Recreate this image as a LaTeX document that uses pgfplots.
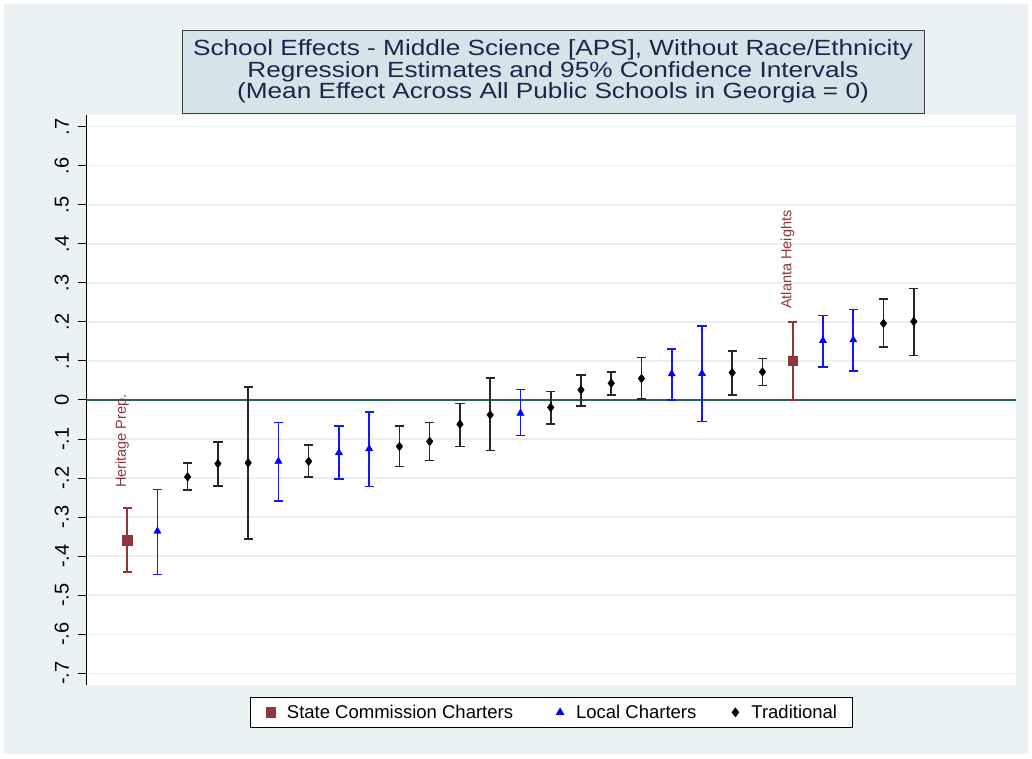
\documentclass[border=0pt]{standalone}
\usepackage{pgfplots}
\usepackage{pgfplotstable}
\pgfplotsset{compat=1.18}
\usepackage{fontspec}
\setmainfont{Liberation Sans}
\newfontfamily\titlefont[FakeStretch=1.19]{Liberation Sans}
\definecolor{bgc}{RGB}{234,242,243}
\definecolor{titlebg}{RGB}{214,227,233}
\definecolor{gridc}{RGB}{232,240,242}
\definecolor{zeroc}{RGB}{36,100,92}
\definecolor{sred}{RGB}{144,53,59}
\definecolor{lblue}{RGB}{20,20,255}
\definecolor{titlec}{RGB}{28,38,74}

\pgfplotstableread{
x y lo hi
1 -0.359 -0.441 -0.276
23 0.100 0.000 0.200
}\statedata

\pgfplotstableread{
x y lo hi
2 -0.336 -0.447 -0.229
6 -0.157 -0.258 -0.058
8 -0.135 -0.202 -0.067
9 -0.125 -0.222 -0.031
14 -0.034 -0.091 0.027
19 0.067 0.000 0.131
20 0.068 -0.055 0.189
24 0.152 0.085 0.216
25 0.154 0.075 0.232
}\localdata

\pgfplotstableread{
x y lo hi
3 -0.197 -0.231 -0.162
4 -0.163 -0.220 -0.108
5 -0.161 -0.356 0.034
7 -0.157 -0.197 -0.115
10 -0.119 -0.170 -0.066
11 -0.106 -0.155 -0.058
12 -0.062 -0.119 -0.009
13 -0.038 -0.129 0.056
15 -0.019 -0.062 0.022
16 0.026 -0.015 0.064
17 0.043 0.013 0.071
18 0.055 0.002 0.109
21 0.070 0.013 0.126
22 0.072 0.037 0.106
26 0.196 0.135 0.259
27 0.201 0.114 0.286
}\traddata

\begin{document}
\begin{tikzpicture}[x=1pt,y=1pt]
\fill[white] (0,0) rectangle (1032,758);
\fill[bgc] (4,4) rectangle (1028,754);
\fill[white] (86,73) rectangle (1016,643);
\begin{axis}[
  at={(86pt,73pt)}, anchor=south west,
  scale only axis, width=930pt, height=570pt,
  xmin=-0.36, xmax=30.38, ymin=-0.73, ymax=0.73,
  axis x line=none, axis y line*=left,
  axis line style={black, line width=1pt},
  ytick={-0.7,-0.6,-0.5,-0.4,-0.3,-0.2,-0.1,0,0.1,0.2,0.3,0.4,0.5,0.6,0.7},
  yticklabels={-.7,-.6,-.5,-.4,-.3,-.2,-.1,0,.1,.2,.3,.4,.5,.6,.7},
  tick align=outside, major tick length=8pt,
  ytick style={black, line width=1pt},
  yticklabel style={xshift=-9pt, rotate=90, anchor=south, inner sep=0pt, font=\fontsize{20}{22}\selectfont},
  ymajorgrids, grid style={gridc, line width=1.5pt},
  clip=false,
  legend columns=3,
  legend image code/.code={\path[draw=none,fill=none] (0pt,-1pt) rectangle (22pt,1pt); \draw[mark repeat=1,#1] plot coordinates {(8pt,0pt)};},
  legend style={at={(0.5,-0.0211)}, anchor=north, draw=black, line width=0.8pt, fill=white,
    font=\fontsize{18.5}{20}\selectfont, inner xsep=13pt, inner ysep=5.5pt,
    /tikz/column 2/.append style={column sep=37pt},
    /tikz/column 4/.append style={column sep=29pt}},
]
\addplot[zeroc, line width=1.6pt, forget plot] coordinates {(-0.36,0) (30.38,0)};

\addplot[only marks, mark=square*, mark size=4.7pt, color=sred,
  error bars/.cd, y dir=both, y explicit,
  error bar style={line width=2.2pt, color=sred},
  error mark options={rotate=90, mark size=4.6pt, line width=2pt, color=sred}]
  table[x=x, y=y, y error plus expr=\thisrow{hi}-\thisrow{y}, y error minus expr=\thisrow{y}-\thisrow{lo}] {\statedata};
\addlegendentry{State Commission Charters}

\addplot[only marks, mark=triangle*, mark size=4.2pt, color=blue,
  error bars/.cd, y dir=both, y explicit,
  error bar style={line width=1.8pt, color=lblue},
  error mark options={rotate=90, mark size=4.6pt, line width=1.6pt, color=lblue}]
  table[x=x, y=y, y error plus expr=\thisrow{hi}-\thisrow{y}, y error minus expr=\thisrow{y}-\thisrow{lo}] {\localdata};
\addlegendentry{Local Charters}

\addplot[only marks, mark=diamond*, mark size=4.4pt, color=black,
  error bars/.cd, y dir=both, y explicit,
  error bar style={line width=1.6pt, color=black!85},
  error mark options={rotate=90, mark size=4.6pt, line width=1.6pt, color=black!85}]
  table[x=x, y=y, y error plus expr=\thisrow{hi}-\thisrow{y}, y error minus expr=\thisrow{y}-\thisrow{lo}] {\traddata};
\addlegendentry{Traditional}

\node[rotate=90, anchor=west, inner sep=0pt, text=sred, font=\fontsize{14.5}{16}\selectfont]
  at ([xshift=-5pt,yshift=52pt]axis cs:1,-0.359) {Heritage Prep.};
\node[rotate=90, anchor=west, inner sep=0pt, text=sred, font=\fontsize{14.5}{16}\selectfont]
  at ([xshift=-5pt,yshift=52pt]axis cs:23,0.100) {Atlanta Heights};
\end{axis}
\node[draw=black!75, line width=0.8pt, fill=titlebg, minimum width=742pt, minimum height=83pt,
  text=titlec, align=center, inner sep=0pt, font=\titlefont\fontsize{22}{21.5}\selectfont]
  at (553,686.5) {School Effects - Middle Science [APS], Without Race/Ethnicity\\Regression Estimates and 95\% Confidence Intervals\\(Mean Effect Across All Public Schools in Georgia = 0)};
\end{tikzpicture}
\end{document}
